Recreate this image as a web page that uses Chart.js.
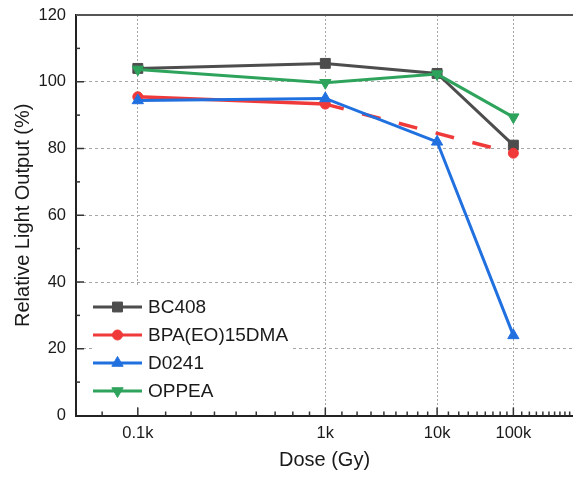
<!DOCTYPE html>
<html><head><meta charset="utf-8">
<script src="https://cdn.jsdelivr.net/npm/chart.js@4.4.0/dist/chart.umd.min.js"></script>
<style>html,body{margin:0;padding:0;background:#fff;} canvas{display:block;}</style>
</head><body>
<canvas id="c" width="573" height="477"></canvas>
<script>
// ---- data ----
const doses = [100, 1000, 10000, 100000];
const xTickLabels = ['0.1k', '1k', '10k', '100k'];
const bc408 = [104.0, 105.5, 102.5, 81.0];
const bpa = [95.5, 93.3, null, 78.6];
const d0241 = [94.4, 95.0, 82.0, 24.0];
const oppea = [103.7, 99.7, 102.3, 89.4];
const seriesNames = ['BC408', 'BPA(EO)15DMA', 'D0241', 'OPPEA'];
const yMin = 0, yMax = 120, yStep = 20;
const xDoseMin = 83, xDoseMax = 1.5e6;

// ---- axis transform (non-uniform dose axis) ----
function tDecade(d) { return -1 / Math.sqrt(Math.log10(d)); }
function xPos(d) {
  const n = Math.floor(Math.log10(d) + 1e-9);
  const base = Math.pow(10, n);
  const k = d / base;
  const frac = Math.log(1 + 0.1 * (k - 1)) / Math.log(1.9);
  return tDecade(base) + frac * (tDecade(base * 10) - tDecade(base));
}

const FONT = "'Liberation Sans', Arial, sans-serif";
const TXT = '#1a1a1a';
const GRID = '#a6a6a6';

const styles = [
  {color: '#4d4d4d', point: 'rect', radius: 7, rot: 0},
  {color: '#f03a3a', point: 'circle', radius: 5, rot: 0},
  {color: '#2170e0', point: 'triangle', radius: 6.5, rot: 0},
  {color: '#2ea35c', point: 'triangle', radius: 6.5, rot: 180}
];
const allSeries = [bc408, bpa, d0241, oppea];

const datasets = allSeries.map((arr, si) => ({
  label: seriesNames[si],
  data: doses.map((d, i) => ({x: xPos(d), y: arr[i]})),
  borderColor: styles[si].color,
  backgroundColor: styles[si].color,
  pointBackgroundColor: styles[si].color,
  pointBorderColor: styles[si].color,
  pointStyle: styles[si].point,
  pointRadius: styles[si].radius,
  pointRotation: styles[si].rot,
  pointBorderWidth: 1,
  borderWidth: si === 1 ? 3.5 : 3,
  tension: 0,
  spanGaps: true,
  order: 4 - si,
  clip: false,
  segment: {
    borderDash: ctx => (ctx.p0.skip || ctx.p1.skip) ? [19, 19] : undefined
  }
}));

function drawMarker(ctx, st, x, y) {
  ctx.save();
  ctx.fillStyle = st.color;
  ctx.strokeStyle = st.color;
  ctx.lineWidth = 1;
  ctx.beginPath();
  const r = st.radius;
  if (st.point === 'rect') {
    const s = r * Math.SQRT1_2;
    ctx.rect(x - s, y - s, 2 * s, 2 * s);
  } else if (st.point === 'circle') {
    ctx.arc(x, y, r, 0, Math.PI * 2);
  } else {
    let rad = st.rot * Math.PI / 180;
    for (let j = 0; j < 3; j++) {
      const px = x + Math.sin(rad) * r, py = y - Math.cos(rad) * r;
      if (j === 0) ctx.moveTo(px, py); else ctx.lineTo(px, py);
      rad += 2 * Math.PI / 3;
    }
    ctx.closePath();
  }
  ctx.fill();
  ctx.stroke();
  ctx.restore();
}

const decorPlugin = {
  id: 'decor',
  afterDatasetsDraw(chart) {
    const ctx = chart.ctx;
    const area = chart.chartArea;
    const xs = chart.scales.x, ys = chart.scales.y;
    // legend box
    const lx = 93, ly = 287, lw = 200, lh = 120;
    ctx.save();
    ctx.fillStyle = '#ffffff';
    ctx.fillRect(lx, ly, lw, lh);
    seriesNames.forEach((name, i) => {
      const cy = 307 + i * 28;
      const st = styles[i];
      ctx.strokeStyle = st.color;
      ctx.lineWidth = 3;
      ctx.beginPath();
      ctx.moveTo(lx, cy);
      ctx.lineTo(lx + 49, cy);
      ctx.stroke();
      drawMarker(ctx, st, lx + 24.5, cy);
      ctx.fillStyle = TXT;
      ctx.font = '19px ' + FONT;
      ctx.textAlign = 'left';
      ctx.textBaseline = 'middle';
      ctx.fillText(name, lx + 55, cy + 1);
    });
    // top frame
    ctx.strokeStyle = '#555555';
    ctx.lineWidth = 2;
    ctx.beginPath();
    ctx.moveTo(area.left, area.top);
    ctx.lineTo(area.right, area.top);
    ctx.stroke();
    // inward ticks on x
    ctx.strokeStyle = '#333333';
    ctx.lineWidth = 1.5;
    const xmin = xs.min, xmax = xs.max;
    for (let n = 1; n <= 6; n++) {
      const base = Math.pow(10, n);
      for (let k = 1; k <= 9; k++) {
        const d = k * base;
        const v = xPos(d);
        if (v < xmin || v > xmax) continue;
        const major = k === 1 && doses.includes(d);
        const px = xs.getPixelForValue(v);
        ctx.beginPath();
        ctx.moveTo(px, area.bottom);
        ctx.lineTo(px, area.bottom - (major ? 8 : 4));
        ctx.stroke();
      }
    }
    // inward ticks on y
    for (let v = yMin + 10; v < yMax; v += 10) {
      const major = v % yStep === 0;
      const py = ys.getPixelForValue(v);
      ctx.beginPath();
      ctx.moveTo(area.left, py);
      ctx.lineTo(area.left + (major ? 8 : 4), py);
      ctx.stroke();
    }
    ctx.restore();
  }
};

new Chart(document.getElementById('c'), {
  type: 'line',
  data: {datasets},
  plugins: [decorPlugin],
  options: {
    responsive: false,
    animation: false,
    devicePixelRatio: 1,
    layout: {autoPadding: false, padding: {top: 15, right: 0, left: 0, bottom: 0}},
    plugins: {legend: {display: false}, tooltip: {enabled: false}},
    scales: {
      x: {
        type: 'linear',
        min: xPos(xDoseMin),
        max: xPos(xDoseMax),
        afterBuildTicks: s => { s.ticks = doses.map(d => ({value: xPos(d)})); },
        afterFit: s => { s.height = 61.5; s.paddingLeft = 0; s.paddingRight = 0; },
        ticks: {
          autoSkip: false, maxRotation: 0, padding: 8, color: TXT,
          font: {family: FONT, size: 16.5},
          callback: (v, i) => xTickLabels[i]
        },
        grid: {color: GRID, lineWidth: 1, drawTicks: false},
        border: {color: '#222222', width: 2, dash: [2, 2]},
        title: {display: true, text: 'Dose (Gy)', color: TXT, font: {family: FONT, size: 20}, padding: {top: 0, bottom: 5}}
      },
      y: {
        type: 'linear',
        min: yMin, max: yMax,
        afterFit: s => { s.width = 76; s.paddingTop = 0; s.paddingBottom = 0; },
        ticks: {stepSize: yStep, padding: 10, color: TXT, font: {family: FONT, size: 16.5}},
        grid: {
          color: c => (c.tick && (c.tick.value === yMin || c.tick.value === yMax)) ? 'rgba(0,0,0,0)' : GRID,
          lineWidth: 1, drawTicks: false
        },
        border: {color: '#222222', width: 2, dash: [3, 3]},
        title: {display: true, text: 'Relative Light Output (%)', color: TXT, font: {family: FONT, size: 20}, padding: {top: 11, bottom: 0}}
      }
    }
  }
});
</script>
</body></html>
